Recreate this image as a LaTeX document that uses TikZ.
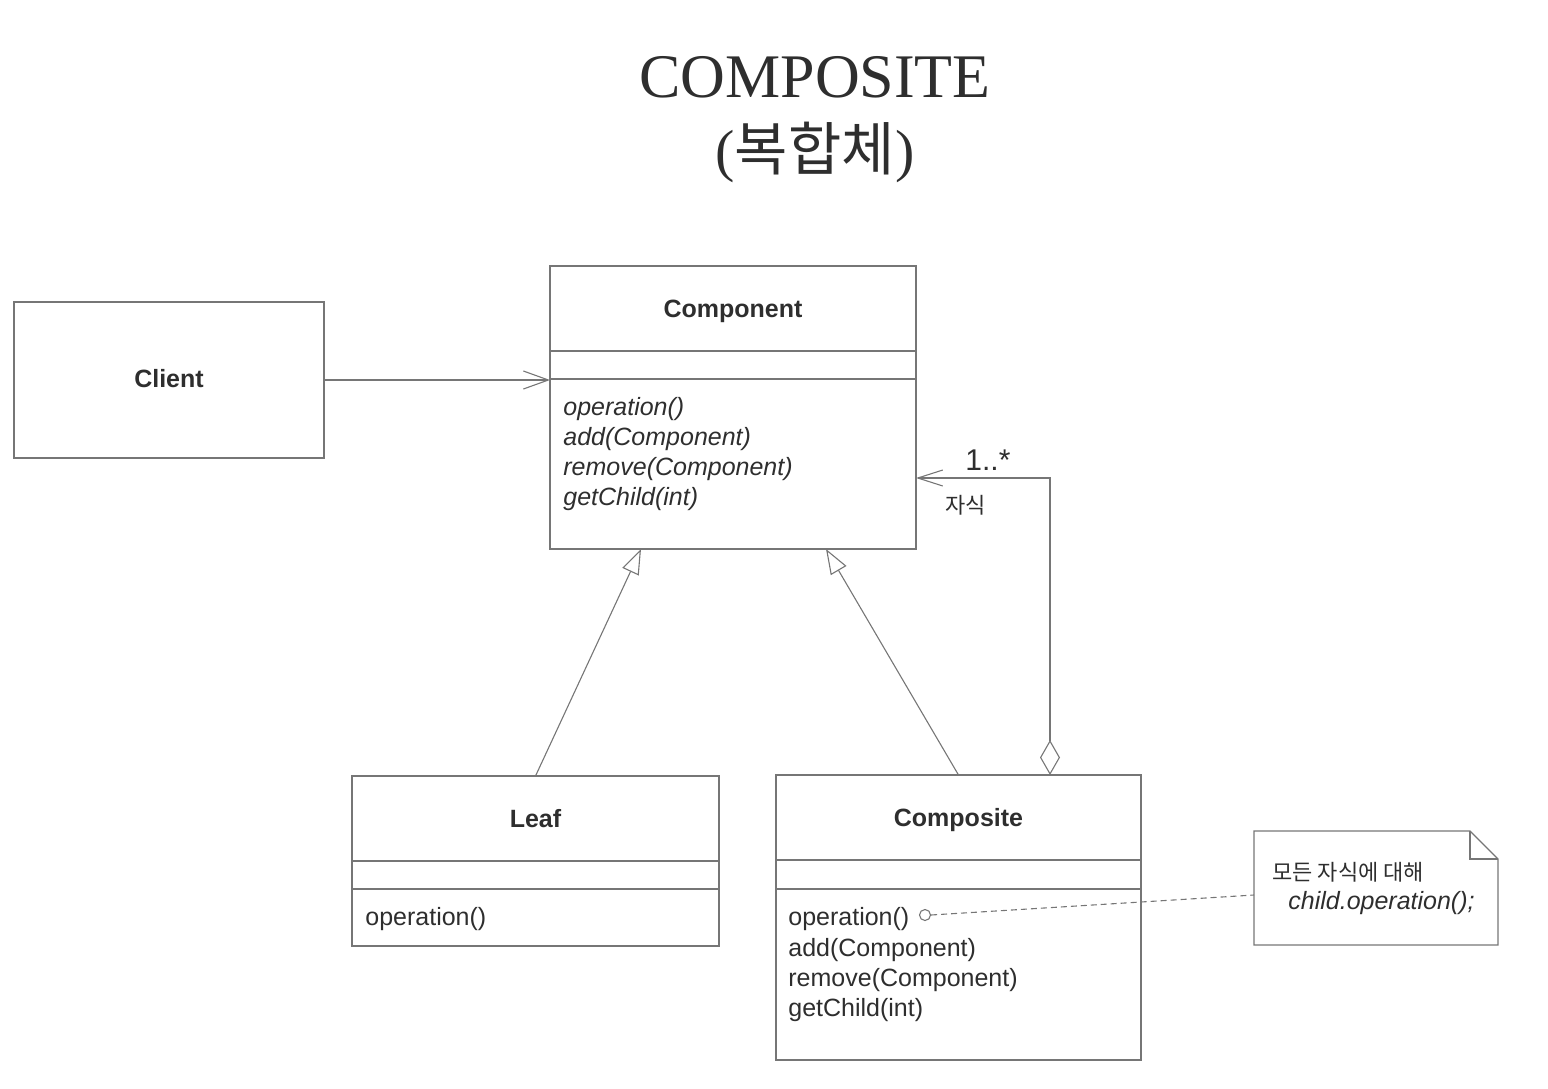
\documentclass[tikz,border=0pt]{standalone}
\usepackage{fontspec}
\setmainfont{Liberation Serif}
\newfontfamily\arial{Liberation Sans}
\newfontfamily\kr{Noto Sans CJK KR}
\usetikzlibrary{arrows.meta}
\definecolor{txt}{HTML}{2E2E2E}
\definecolor{ln}{HTML}{767676}
\begin{document}
\begin{tikzpicture}[x=0.5pt,y=-0.5pt,
  box/.style={draw=ln, line width=0.55pt, inner sep=0pt, outer sep=0pt, anchor=north west},
  clsname/.style={font=\arial\bfseries\fontsize{12.5}{15}\selectfont, text=txt, anchor=base, inner sep=0pt},
  meth/.style={font=\arial\fontsize{12.5}{15}\selectfont, text=txt, anchor=base west, inner sep=0pt},
  imeth/.style={meth, font=\arial\itshape\fontsize{12.5}{15}\selectfont},
  conn/.style={draw=ln, line width=0.55pt},
  openv/.style={conn, -{Straight Barb[length=12.5pt,width=9pt,line width=0.55pt]}},
  gen/.style={conn, -{Triangle[open,length=12.5pt,width=9pt,fill=white,line width=0.55pt]}},
  kor/.style={font=\kr\fontsize{11}{13}\selectfont, text=txt, anchor=base west, inner sep=0pt}
]
\useasboundingbox (0,0) rectangle (1548,1088);

% Title
\node[font=\fontsize{31}{36}\selectfont, text=txt, anchor=base, inner sep=0pt] (title1) at (815,97) {COMPOSITE};
\node[font=\fontsize{29}{34}\selectfont, text=txt, anchor=base, inner sep=0pt] (title2) at (815,170) {({\kr 복합체})};

% Client
\node[box, minimum width=155pt, minimum height=78pt] (client) at (14,302) {};
\node[clsname] (clientname) at (169,387) {Client};

% Component
\node[box, minimum width=183pt, minimum height=141.5pt] (comp) at (550,266) {};
\draw[conn] ([yshift=-42.5pt]comp.north west) -- ([yshift=-42.5pt]comp.north east);
\draw[conn] ([yshift=-56.5pt]comp.north west) -- ([yshift=-56.5pt]comp.north east);
\node[clsname] (compname) at (733,317) {Component};
\node[imeth] (cm1) at (563,415) {operation()};
\node[imeth] (cm2) at (563,445) {add(Component)};
\node[imeth] (cm3) at (563,475) {remove(Component)};
\node[imeth] (cm4) at (563,505) {getChild(int)};

% Leaf
\node[box, minimum width=183.5pt, minimum height=85pt] (leaf) at (352,776) {};
\draw[conn] ([yshift=-42.5pt]leaf.north west) -- ([yshift=-42.5pt]leaf.north east);
\draw[conn] ([yshift=-56.5pt]leaf.north west) -- ([yshift=-56.5pt]leaf.north east);
\node[clsname] (leafname) at (535.5,827) {Leaf};
\node[meth] (lm1) at (365,925) {operation()};

% Composite
\node[box, minimum width=182.5pt, minimum height=142.5pt] (composite) at (776,775) {};
\draw[conn] ([yshift=-42.5pt]composite.north west) -- ([yshift=-42.5pt]composite.north east);
\draw[conn] ([yshift=-57pt]composite.north west) -- ([yshift=-57pt]composite.north east);
\node[clsname] (compositename) at (958.5,826) {Composite};
\node[meth] (pm1) at (788,925) {operation()};
\node[meth] (pm2) at (788,956) {add(Component)};
\node[meth] (pm3) at (788,986) {remove(Component)};
\node[meth] (pm4) at (788,1016) {getChild(int)};

% Note
\node[inner sep=0pt, outer sep=0pt, minimum width=122pt, minimum height=57pt, anchor=north west] (note) at (1254,831) {};
\draw[conn] (note.north west) -- ([xshift=-14pt]note.north east) -- ([yshift=-14pt]note.north east) -- (note.south east) -- (note.south west) -- cycle;
\draw[conn] ([xshift=-14pt]note.north east) -- ([xshift=-14pt,yshift=-14pt]note.north east) -- ([yshift=-14pt]note.north east);
\node[kor] (notetext1) at (1272,880) {모든 자식에 대해};
\node[imeth] (notetext2) at (1288,909) {child.operation();};
\coordinate (notein) at (1254,895);

% Note link
\node[circle, draw=ln, line width=0.55pt, minimum size=5.5pt, inner sep=0pt] (dot) at (925,915) {};
\draw[conn, dash pattern=on 3pt off 2pt] (dot.east) -- (notein);

% Client -> Component
\draw[openv] (client.east) -- (client.east -| comp.west);

% Generalizations
\draw[gen] (leaf.north) -- ([xshift=-46pt]comp.south);
\draw[gen] (composite.north) -- ([xshift=46.5pt]comp.south);

% Aggregation
\draw[conn, {Diamond[open,length=17.5pt,width=10pt,fill=white,line width=0.55pt]}-{Straight Barb[length=12.5pt,width=8pt,line width=0.55pt]}]
  ([xshift=-45.5pt]composite.north east) |- ([yshift=-35.25pt]comp.east);
\node[font=\arial\fontsize{15}{18}\selectfont, text=txt, anchor=base west, inner sep=0pt] (mult) at (965,470) {1..*};
\node[font=\kr\fontsize{11}{13}\selectfont, text=txt, anchor=base west, inner sep=0pt] (role) at (945,513) {자식};
\end{tikzpicture}
\end{document}
